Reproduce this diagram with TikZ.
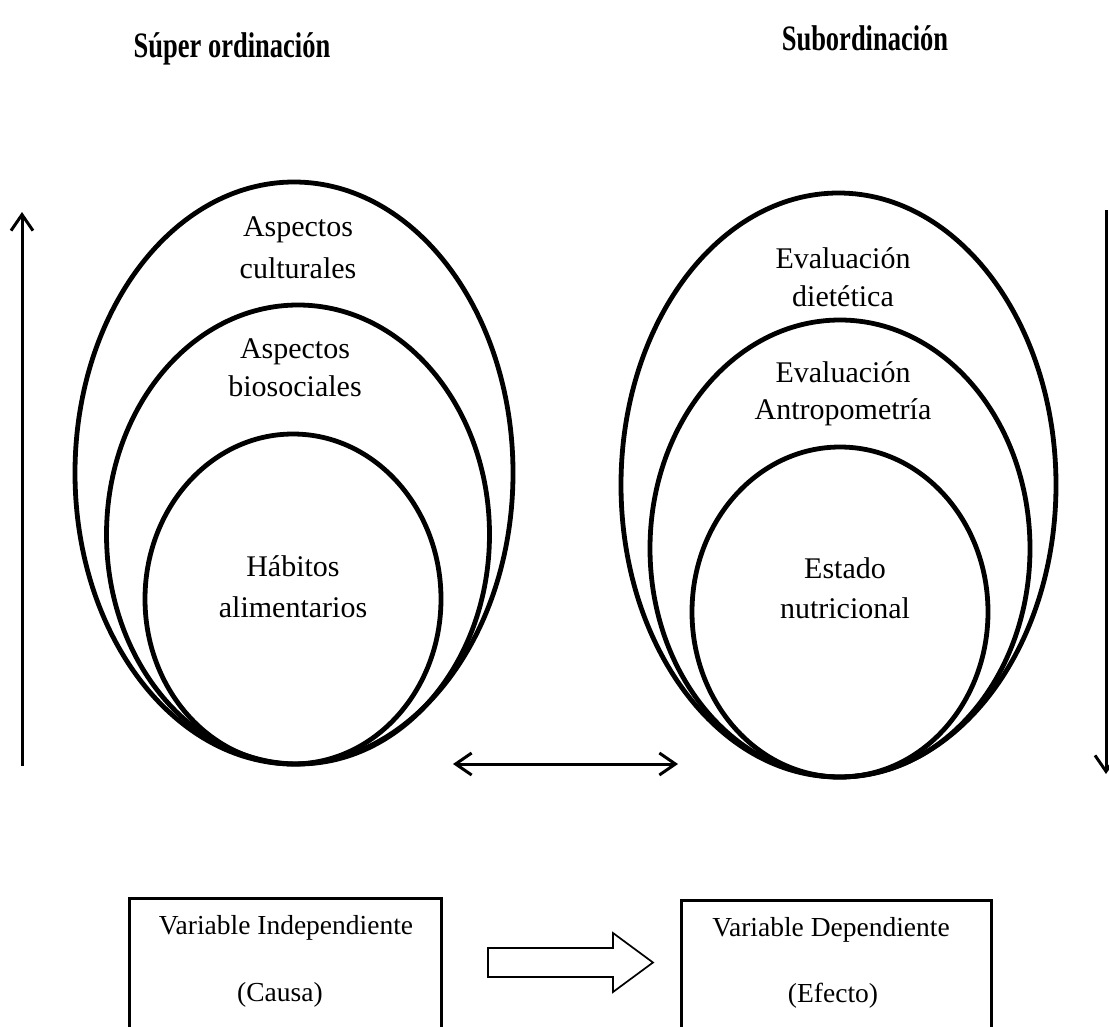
\documentclass[tikz,border=0pt]{standalone}
\usepackage{fontspec}
\setmainfont{Liberation Serif}
\usetikzlibrary{shapes.geometric,arrows.meta}
\begin{document}
\begin{tikzpicture}[x=1pt,y=-1pt,
  oval/.style={draw,line width=4.8pt,ellipse,inner sep=0pt},
  lbl/.style={anchor=base,inner sep=0pt,font=\fontsize{30}{36}\selectfont},
  boxtxt/.style={anchor=base,inner sep=0pt,font=\fontsize{27.5}{32}\selectfont},
  ttl/.style={anchor=base,inner sep=0pt,font=\fontsize{26.5}{30}\selectfont\bfseries},
  vbox/.style={draw,line width=2.6pt,inner sep=0pt,anchor=north west},
  arr/.style={line width=3pt,-{Straight Barb[length=16pt,width=22pt]}},
  darr/.style={line width=3pt,{Straight Barb[length=16pt,width=22pt]}-{Straight Barb[length=16pt,width=22pt]}},
  blockarrow/.style={draw,line width=1.7pt,line join=miter,fill=white}
]
\useasboundingbox (0,0) rectangle (1109,1026);
\clip (0,0) rectangle (1109,1026);

% titles
\node[ttl] (t1) at (232,57) {\scalebox{1}[1.35]{Súper ordinación}};
\node[ttl] (t2) at (865,50) {\scalebox{1}[1.35]{Subordinación}};

% left ovals
\node[oval,minimum width=438pt,minimum height=582pt] (lo) at (294,473) {};
\node[oval,minimum width=383pt,minimum height=459pt] (lm) at (298,534.5) {};
\node[oval,minimum width=296pt,minimum height=330pt] (li) at (293,599) {};
% right ovals
\node[oval,minimum width=435pt,minimum height=584pt] (ro) at (838.5,485) {};
\node[oval,minimum width=380pt,minimum height=457pt] (rm) at (840,548.5) {};
\node[oval,minimum width=296pt,minimum height=330pt] (ri) at (840,612) {};

% left labels
\node[lbl] (l1a) at (298,236) {Aspectos};
\node[lbl] (l1b) at (298,278) {culturales};
\node[lbl] (l2a) at (295,358) {Aspectos};
\node[lbl] (l2b) at (295,396) {biosociales};
\node[lbl] (l3a) at (293,576) {Hábitos};
\node[lbl] (l3b) at (293,617) {alimentarios};
% right labels
\node[lbl] (r1a) at (843,268) {Evaluación};
\node[lbl] (r1b) at (843,306) {dietética};
\node[lbl] (r2a) at (843,382) {Evaluación};
\node[lbl] (r2b) at (843,419) {Antropometría};
\node[lbl] (r3a) at (845,578) {Estado};
\node[lbl] (r3b) at (845,618) {nutricional};

% vertical arrows
\coordinate (la1) at (22,766);
\coordinate (la2) at (22,212);
\draw[arr] (la1) -- (la2);
\coordinate (ra1) at (1106,210);
\coordinate (ra2) at (1106,774);
\draw[arr] (ra1) -- (ra2);

% double arrow
\coordinate (da1) at (453,764);
\coordinate (da2) at (678,764);
\draw[darr] (da1) -- (da2);

% boxes
\node[vbox,minimum width=312pt,minimum height=160pt] (bx1) at (128,897) {};
\node[vbox,minimum width=310pt,minimum height=160pt] (bx2) at (680,899) {};
\node[boxtxt] (b1a) at (286,934) {Variable Independiente};
\node[boxtxt] (b1b) at (280,1001) {(Causa)};
\node[boxtxt] (b2a) at (831,936) {Variable Dependiente};
\node[boxtxt] (b2b) at (833,1002) {(Efecto)};

% block arrow
\draw[blockarrow] (488,948) -- (613,948) -- (613,933) -- (653,962.5) -- (613,992) -- (613,977) -- (488,977) -- cycle;
\end{tikzpicture}
\end{document}
